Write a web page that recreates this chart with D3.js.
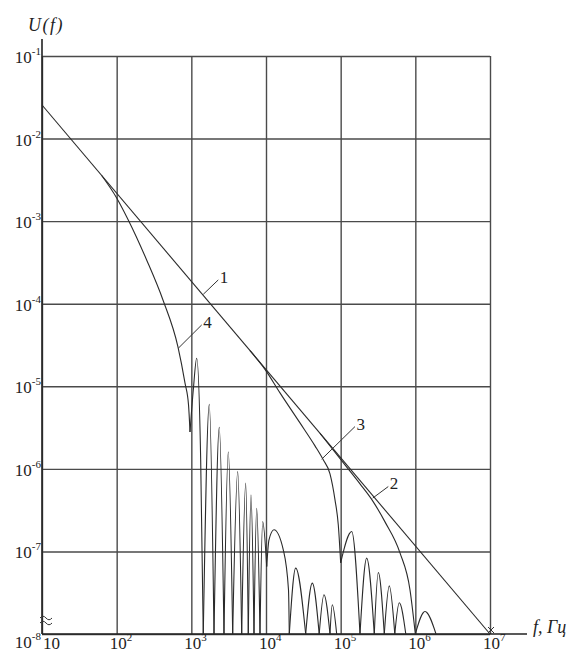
<!DOCTYPE html>
<meta charset="utf-8">
<script src="https://d3js.org/d3.v7.min.js"></script>
<style>
  body { margin: 0; background: #fff; }
  text { font-family: "Liberation Serif", "DejaVu Serif", serif; fill: #222; }
</style>
<div id="my_dataviz"></div>
<script>

// decades shown on the axes
var xExponents = [1, 2, 3, 4, 5, 6, 7];
var yExponents = [-1, -2, -3, -4, -5, -6, -7, -8];

// curve 1: the straight envelope [f, U]
var line1 = [[10, 0.0255], [1e7, 1e-8]];

// curve 2: leaves line 1 near 5e4 Hz, first null at 1e6 Hz
var curve2 = [
  [[52840, 2.70e-6], [114300, 1.117e-6], [181500, 6.58e-7], [262800, 4.21e-7],
   [392300, 2.28e-7], [623000, 9.6e-8], [848000, 3.43e-8], [1e6, 1e-8]],
  [[1e6, 1e-8], [1.347e6, 1.87e-8], [1.891e6, 1e-8]]
];

// curve 3: leaves line 1 near 6e3 Hz, null at 1e5 Hz then side lobes
var curve3 = [
  [[6105, 2.70e-5], [9694, 1.602e-5], [15395, 8.32e-6], [28510, 3.60e-6],
   [45310, 1.90e-6], [58480, 1.285e-6], [71950, 8.70e-7], [83950, 4.22e-7],
   [92900, 2.10e-7], [1e5, 7.28e-8]],
  [[1e5, 7.28e-8], [140500, 1.74e-7], [181500, 1e-8]],
  [[181500, 1e-8], [223100, 8.3e-8], [282000, 1e-8]],
  [[282000, 1e-8], [319100, 5.55e-8], [383900, 1e-8]],
  [[383900, 1e-8], [447800, 3.83e-8], [530700, 1e-8]],
  [[530700, 1e-8], [609500, 2.39e-8], [745000, 1e-8]]
];

// curve 4: leaves line 1 near 60 Hz, null near 1e3 Hz then many lobes
var curve4 = [
  [[63, 3.57e-3], [100, 1.91e-3], [143, 1.034e-3], [252, 3.39e-4], [417, 1.11e-4],
   [662, 3.0e-5], [822, 1.1e-5], [917, 5.96e-6], [960, 2.8e-6]],
  [[960, 2.8e-6], [1062, 9.0e-6], [1180, 2.19e-5], [1334, 1.29e-6], [1445, 1e-8]],
  [[1445, 1e-8], [1740, 6.04e-6], [2012, 1e-8]],
  [[2012, 1e-8], [2368, 3.18e-6], [2737, 1e-8]],
  [[2737, 1e-8], [3126, 1.61e-6], [3580, 1e-8]],
  [[3580, 1e-8], [4178, 9.27e-7], [4726, 1e-8]],
  [[4726, 1e-8], [5346, 6.71e-7], [5792, 1e-8]],
  [[5792, 1e-8], [6295, 4.84e-7], [6906, 1e-8]],
  [[6906, 1e-8], [7506, 3.34e-7], [8310, 1e-8]],
  [[8310, 1e-8], [9030, 2.30e-7], [10220, 6.56e-8]],
  [[10220, 6.56e-8], [10965, 1.38e-7], [12790, 1.83e-7], [17050, 1.045e-7],
   [20010, 3.43e-8], [20510, 1e-8]],
  [[20510, 1e-8], [24980, 6.28e-8], [34010, 1e-8]],
  [[34010, 1e-8], [41690, 4.13e-8], [51580, 1e-8]],
  [[51580, 1e-8], [59790, 2.99e-8], [71950, 1e-8]],
  [[71950, 1e-8], [77230, 2.26e-8], [88430, 1e-8]]
];

// curve numbers and the point each leader touches
var labelNames = ["1", "2", "3", "4"];
var labelAnchors = [[1445, 1.3e-4], [268500, 4.42e-7], [55700, 1.31e-6], [669, 2.89e-5]];

// set the dimensions and margins of the graph
var margin = {top: 56, right: 82, bottom: 18, left: 42},
    width = 572 - margin.left - margin.right,
    height = 652 - margin.top - margin.bottom;

var svg = d3.select("#my_dataviz")
  .append("svg")
    .attr("width", width + margin.left + margin.right)
    .attr("height", height + margin.top + margin.bottom)
  .append("g")
    .attr("transform", "translate(" + margin.left + "," + margin.top + ")");

var x = d3.scaleLog().domain([10, 1e7]).range([0, width]);
var y = d3.scaleLog().domain([1e-1, 1e-8]).range([0, height]);

var xTicks = xExponents.map(function(e) { return Math.pow(10, e); });
var yTicks = yExponents.map(function(e) { return Math.pow(10, e); });

// grid
svg.append("g")
  .attr("transform", "translate(0," + height + ")")
  .call(d3.axisBottom(x).tickValues(xTicks).tickSize(-height).tickFormat(""))
  .call(function(g) { g.select(".domain").remove(); })
  .selectAll("line").attr("stroke", "#4a4a4a").attr("stroke-width", 1.4);

svg.append("g")
  .call(d3.axisLeft(y).tickValues(yTicks).tickSize(-width).tickFormat(""))
  .call(function(g) { g.select(".domain").remove(); })
  .selectAll("line").attr("stroke", "#4a4a4a").attr("stroke-width", 1.4);

// axis lines, a bit longer than the grid
svg.append("line")
  .attr("x1", 0).attr("x2", 0).attr("y1", -17).attr("y2", height)
  .attr("stroke", "#222").attr("stroke-width", 1.6);
svg.append("line")
  .attr("x1", 0).attr("x2", width + 37).attr("y1", height).attr("y2", height)
  .attr("stroke", "#222").attr("stroke-width", 1.6);

// break mark on the y axis
[height - 16, height - 11].forEach(function(yy) {
  svg.append("path")
    .attr("d", "M-2," + yy + " q3,-3.5 6,0 t6,0")
    .attr("fill", "none").attr("stroke", "#333").attr("stroke-width", 1);
});

// y tick labels
var yLab = svg.append("g").selectAll("text")
  .data(yTicks)
  .enter().append("text")
    .attr("x", -1)
    .attr("y", function(d, i) { return y(d) + (i === yTicks.length - 1 ? 14 : 7); })
    .attr("text-anchor", "end")
    .style("font-size", "17px");
yLab.append("tspan").text("10");
yLab.append("tspan")
  .attr("dy", -8)
  .style("font-size", "11px")
  .text(function(d, i) { return yExponents[i]; });

// x tick labels
var xLab = svg.append("g").selectAll("text")
  .data(xTicks)
  .enter().append("text")
    .attr("x", function(d, i) { return x(d) + (i === 0 ? 1 : -7); })
    .attr("y", height + 15)
    .style("font-size", "17px");
xLab.append("tspan").text("10");
xLab.append("tspan")
  .attr("dy", -8)
  .style("font-size", "11px")
  .text(function(d, i) { return i === 0 ? "" : xExponents[i]; });

// axis titles
svg.append("text")
  .attr("x", -14).attr("y", -25)
  .style("font-size", "18px").style("font-style", "italic")
  .style("letter-spacing", "1.5px")
  .text("U(f)");
svg.append("text")
  .attr("x", width + 43).attr("y", height - 1)
  .style("font-size", "18px").style("font-style", "italic")
  .text("f, Гц");

// curves
var smooth = d3.line()
  .x(function(d) { return x(d[0]); })
  .y(function(d) { return y(d[1]); })
  .curve(d3.curveMonotoneX);

svg.append("path")
  .datum(line1)
  .attr("fill", "none")
  .attr("stroke", "#2a2a2a")
  .attr("stroke-width", 1.1)
  .attr("d", d3.line().x(function(d) { return x(d[0]); }).y(function(d) { return y(d[1]); }));

[curve2, curve3, curve4].forEach(function(curve) {
  svg.append("g").selectAll("path")
    .data(curve)
    .enter().append("path")
      .attr("fill", "none")
      .attr("stroke", "#2a2a2a")
      .attr("stroke-width", 1.1)
      .attr("d", smooth);
});

// small cross where line 1 meets the axis
var end = line1[line1.length - 1];
svg.append("path")
  .attr("d", "M" + (x(end[0]) - 2) + "," + (y(end[1]) - 7) + " l6,6 m0,-6 l-6,6")
  .attr("stroke", "#333").attr("stroke-width", 1);

// leaders and curve numbers
var leader = [[15, -14.4], [15.6, -11.6], [33.3, -32.6], [23.4, -23.3]];
labelAnchors.forEach(function(a, i) {
  var px = x(a[0]), py = y(a[1]);
  svg.append("line")
    .attr("x1", px).attr("y1", py)
    .attr("x2", px + leader[i][0]).attr("y2", py + leader[i][1])
    .attr("stroke", "#333").attr("stroke-width", 1);
  svg.append("text")
    .attr("x", px + leader[i][0] + 1.5)
    .attr("y", py + leader[i][1] - 3)
    .attr("dy", "0.35em")
    .style("font-size", "17px")
    .text(labelNames[i]);
});

</script>
